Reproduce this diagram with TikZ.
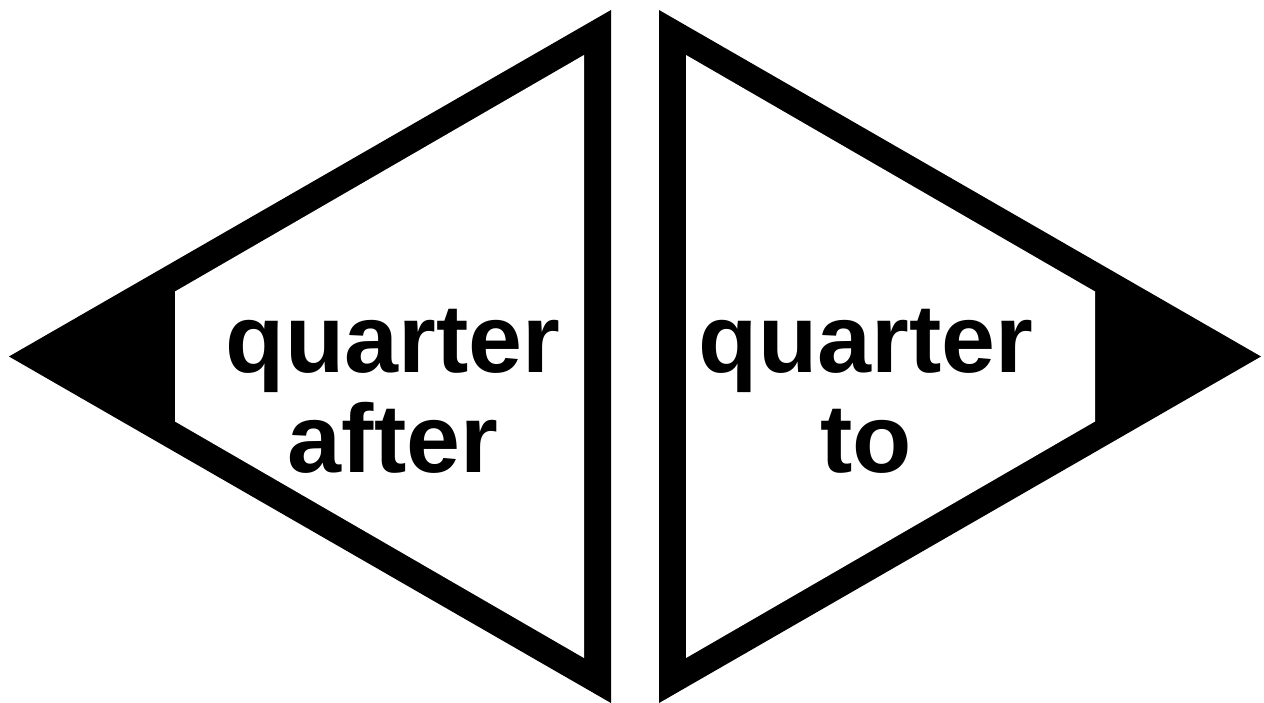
\documentclass[tikz,border=0pt]{standalone}
\usepackage{fontspec}
\setmainfont{Liberation Sans}
\usetikzlibrary{positioning}

\begin{document}
\begin{tikzpicture}[
    x=1pt, y=-1pt,
    shell/.style={fill=black},
    window/.style={fill=white},
    label/.style={font=\fontsize{97}{100}\selectfont\bfseries, align=center, inner sep=0pt, anchor=base},
]
    \useasboundingbox (0,0) rectangle (1264,703);

    % =====================================================================
    % LEFT POINTER (QUARTER AFTER)
    % =====================================================================
    \fill[shell] (9,356.5) -- (611,10) -- (611,703) -- cycle;
    \fill[window] (175,291.5) -- (584,55) -- (584,658) -- (175,421.5) -- cycle;
    \node[label] (qafter) at (393,472) {quarter\\after};

    % =====================================================================
    % RIGHT POINTER (QUARTER TO)
    % =====================================================================
    \fill[shell] (659,10) -- (1261,356.5) -- (659,703) -- cycle;
    \fill[window] (686,55) -- (1095,291.5) -- (1095,421.5) -- (686,658) -- cycle;
    \node[label] (qto) at (866,472) {quarter\\to};

\end{tikzpicture}
\end{document}
